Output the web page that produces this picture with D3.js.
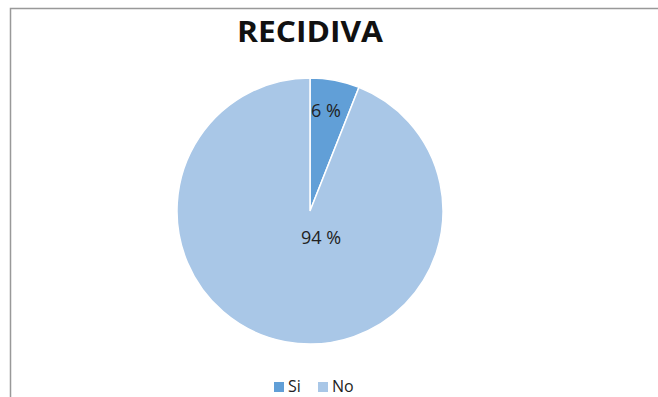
<!DOCTYPE html>
<html><head><meta charset="utf-8">
<script src="https://cdn.jsdelivr.net/npm/d3@7"></script>
<style>body{margin:0;background:#fff;}svg{display:block;}</style>
</head><body>
<svg id="c" width="658" height="397"></svg>
<script>
const categories = ["Si", "No"];
const values = [6, 94];
const labels = ["6 %", "94 %"];
const colors = ["#619fd7", "#a9c7e7"];
const title = "RECIDIVA";

const svg = d3.select("#c");
svg.append("path").attr("d","M10.5,397 L10.5,8.5 L658,8.5").attr("fill","none").attr("stroke","#999").attr("stroke-width",1.5);

svg.append("text").attr("x",310).attr("y",42).attr("text-anchor","middle")
  .attr("font-family","Open Sans").attr("font-weight","bold").attr("font-size",29)
  .attr("textLength",146).attr("lengthAdjust","spacingAndGlyphs")
  .attr("fill","#111").text(title);

const cx=310, cy=211, r=133;
const pie = d3.pie().sort(null).value(d=>d)(values);
const arc = d3.arc().innerRadius(0).outerRadius(r);
const g = svg.append("g").attr("transform",`translate(${cx},${cy})`);
g.selectAll("path").data(pie).join("path").attr("d",arc)
  .attr("fill",(d,i)=>colors[i]).attr("stroke","#fff").attr("stroke-width",1.5);

const labelPos = [[16,-100],[11,27]];
g.selectAll("text").data(pie).join("text")
  .attr("x",(d,i)=>labelPos[i][0]).attr("y",(d,i)=>labelPos[i][1]).attr("dy","0.35em")
  .attr("text-anchor","middle").attr("font-family","Open Sans").attr("font-size",18).attr("fill","#222")
  .text((d,i)=>labels[i]);

const leg = svg.append("g");
const lx = [274, 318];
categories.forEach((c,i)=>{
  leg.append("rect").attr("x",lx[i]).attr("y",382).attr("width",10).attr("height",10).attr("fill",colors[i]);
  leg.append("text").attr("x",lx[i]+14).attr("y",392).attr("font-family","Open Sans").attr("font-size",16).attr("fill","#222").text(c);
});
</script>
</body></html>
